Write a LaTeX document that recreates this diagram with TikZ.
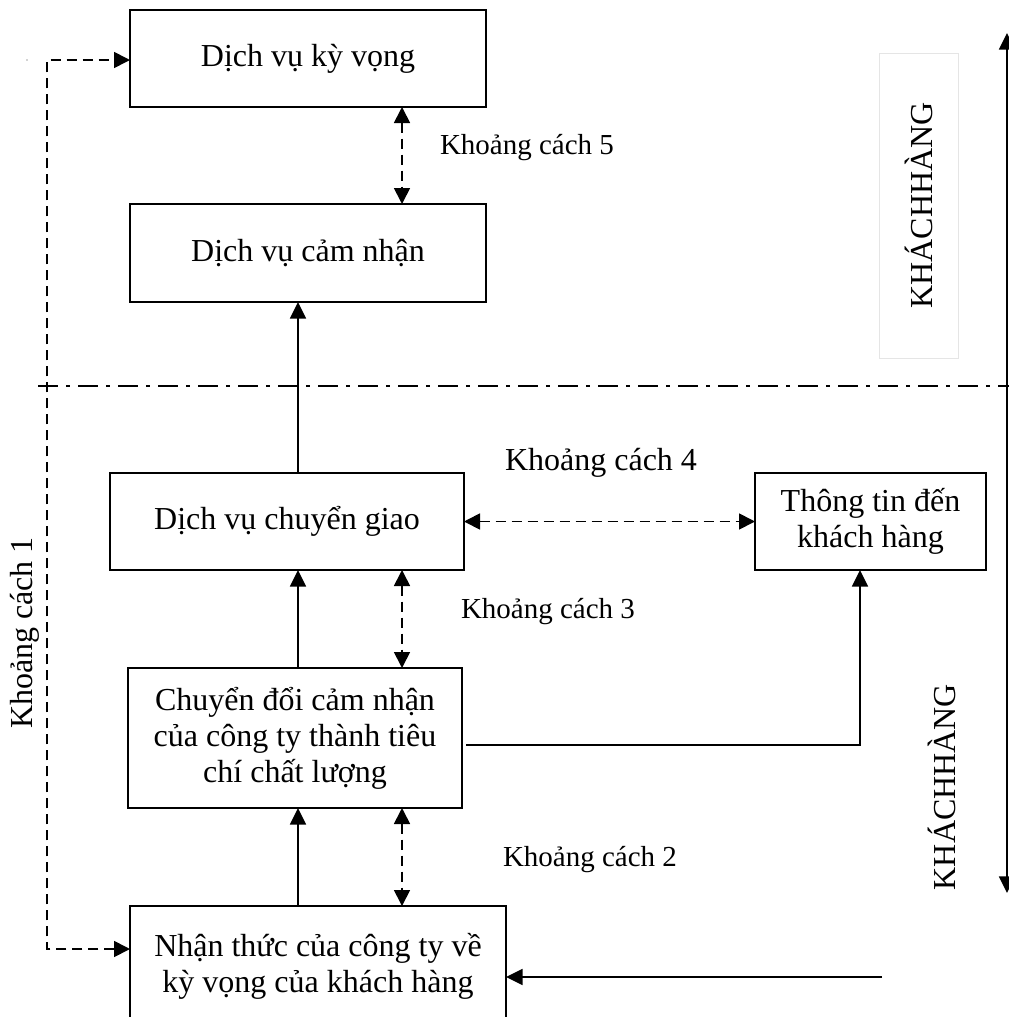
\documentclass[tikz,border=0pt]{standalone}
\usepackage{fontspec}
\setmainfont{Liberation Serif}
\usetikzlibrary{arrows.meta}
\begin{document}
\begin{tikzpicture}[x=0.75pt,y=-0.75pt,
  box/.style={draw, line width=1.5pt, inner sep=0pt, outer sep=0pt, align=center,
    font=\fontsize{24}{27}\selectfont},
  lbl/.style={font=\fontsize{21.75}{25}\selectfont, inner sep=0pt},
  lblbig/.style={font=\fontsize{24}{27}\selectfont, inner sep=0pt},
  arr/.style={line width=1.3pt, -{Triangle[length=12.5pt,width=12pt]}},
  darr/.style={line width=1.3pt, dash pattern=on 7.5pt off 4.5pt,
    {Triangle[length=12pt,width=12pt]}-{Triangle[length=12pt,width=12pt]}},
  sarr/.style={line width=1.3pt,
    {Triangle[length=12.5pt,width=12pt]}-{Triangle[length=12.5pt,width=12pt]}},
  dashdotline/.style={line width=2pt, dash pattern=on 15pt off 6pt on 3pt off 6pt}
]
\useasboundingbox (0,0) rectangle (1008,1017);

% boxes
\node[box, minimum width=356*0.75pt, minimum height=97*0.75pt] (b1) at (308,58.5) {Dịch vụ kỳ vọng};
\node[box, minimum width=356*0.75pt, minimum height=98*0.75pt] (b2) at (308,253) {Dịch vụ cảm nhận};
\node[box, minimum width=354*0.75pt, minimum height=97*0.75pt] (b3) at (287,521.5) {Dịch vụ chuyển giao};
\node[box, minimum width=334*0.75pt, minimum height=140*0.75pt] (b4) at (295,738) {Chuyển đổi cảm nhận\\của công ty thành tiêu\\chí chất lượng};
\node[box, minimum width=376*0.75pt, minimum height=120*0.75pt] (b5) at (318,966) {Nhận thức của công ty về\\kỳ vọng của khách hàng};
\node[box, minimum width=231*0.75pt, minimum height=97*0.75pt] (b6) at (870.5,521.5) {Thông tin đến\\khách hàng};

% labels
\node[lbl] (l5) at (527,148) {Khoảng cách 5};
\node[lblbig] (l4) at (601,463) {Khoảng cách 4};
\node[lbl] (l3) at (548,612) {Khoảng cách 3};
\node[lbl] (l2) at (590,860) {Khoảng cách 2};
\node[lblbig, rotate=90] (l1) at (25,633) {Khoảng cách 1};

% side labels
\node[draw=gray!20, line width=0.6pt, minimum width=79*0.75pt, minimum height=305*0.75pt, inner sep=0pt] (kbox) at (918.5,205.5) {};
\node[lblbig, rotate=90] (k1) at (kbox.center) {KHÁCHHÀNG};
\node[lblbig, rotate=90] (k2) at (942,787) {KHÁCHHÀNG};

% dash-dot separator
\coordinate (dl) at (38,386);
\coordinate (dr) at (1010,386);
\draw[dashdotline] (dl) -- (dr);

% right vertical double arrow
\coordinate (rt) at (1007,33);
\coordinate (rb) at (1007,893);
\draw[sarr] (rt) -- (rb);

% connectors
\draw[darr] (b1.south -| 402,0) -- (b2.north -| 402,0);
\draw[arr] (b3.north -| 298,0) -- (b2.south -| 298,0);
\draw[darr] (b3.east) -- (b6.west);
\draw[arr] (b4.north -| 298,0) -- (b3.south -| 298,0);
\draw[darr] (b3.south -| 402,0) -- (b4.north -| 402,0);
\draw[arr] (b5.north -| 298,0) -- (b4.south -| 298,0);
\draw[darr] (b4.south -| 402,0) -- (b5.north -| 402,0);
\coordinate (c46) at (860,745);
\draw[arr] (466,745 -| b4.east) ++(4,0) -- (c46) -- (b6.south -| c46);
\coordinate (cin) at (882,977);
\draw[arr] (cin) -- (cin -| b5.east);
\coordinate (ld) at (47,949);
\coordinate (lu) at (47,60);
\draw[darr] (ld -| b5.west) -- (ld) -- (lu) -- (lu -| b1.west);

% stray dot
\fill[gray!70] (27,60) circle (0.8);
\end{tikzpicture}
\end{document}
